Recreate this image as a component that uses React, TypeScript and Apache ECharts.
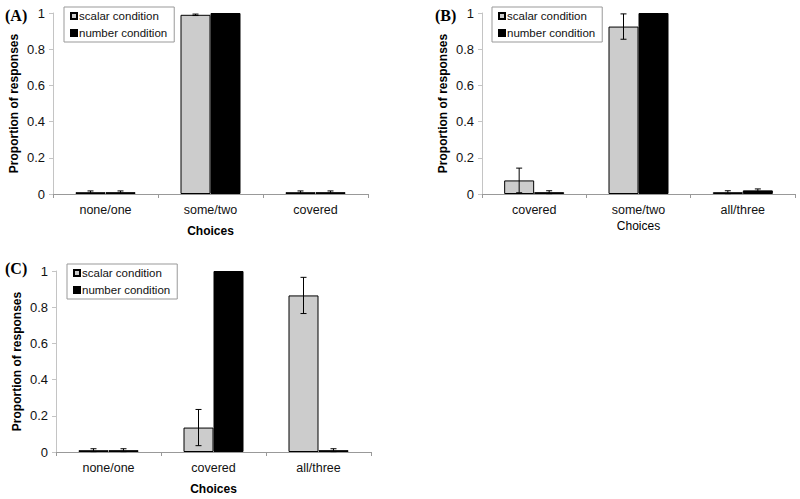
import React, { useEffect, useRef } from "react";
import * as echarts from "echarts";

const catsA = ["none/one", "some/two", "covered"];
const catsB = ["covered", "some/two", "all/three"];
const catsC = ["none/one", "covered", "all/three"];

const scalarA = [0.01, 0.99, 0.01];
const numberA = [0.01, 1.0, 0.01];
const scalarErrA = [0.007, 0.004, 0.007];
const numberErrA = [0.007, 0, 0.007];

const scalarB = [0.075, 0.925, 0.01];
const numberB = [0.01, 1.0, 0.02];
const scalarErrB = [0.068, 0.07, 0.008];
const numberErrB = [0.008, 0, 0.008];

const scalarC = [0.01, 0.135, 0.865];
const numberC = [0.01, 1.0, 0.01];
const scalarErrC = [0.008, 0.1, 0.1];
const numberErrC = [0.008, 0, 0.008];

const legendNames = ["scalar condition", "number condition"];
const panelLabels = ["(A)", "(B)", "(C)"];

const FONT = "'Liberation Sans', Arial, sans-serif";
const BAR_W = 30;

export default function App() {
  const ref = useRef<HTMLDivElement>(null);
  useEffect(() => {
    if (!ref.current) return;
    const chart = echarts.init(ref.current, null, { renderer: "svg" });

    const panels = [
      { cats: catsA, s: scalarA, n: numberA, se: scalarErrA, ne: numberErrA, grid: { left: 53, top: 13, width: 315, height: 181 }, nameBold: true, nameGap: 31, legend: { left: 64, top: 7 } },
      { cats: catsB, s: scalarB, n: numberB, se: scalarErrB, ne: numberErrB, grid: { left: 482, top: 13, width: 313, height: 181 }, nameBold: false, nameGap: 26, legend: { left: 492, top: 7 } },
      { cats: catsC, s: scalarC, n: numberC, se: scalarErrC, ne: numberErrC, grid: { left: 56, top: 271, width: 315, height: 181 }, nameBold: true, nameGap: 31, legend: { left: 67, top: 264 } },
    ];

    const grids: any[] = [];
    const xAxes: any[] = [];
    const yAxes: any[] = [];
    const series: any[] = [];
    const legends: any[] = [];

    const errRender = (offset: number) => (params: any, api: any) => {
      const idx = api.value(0);
      const lo = api.value(1);
      const hi = api.value(2);
      if (hi - lo <= 0) return null;
      const pHi = api.coord([idx, hi]);
      const pLo = api.coord([idx, lo]);
      const x = pHi[0] + offset;
      const cap = 3;
      const style = { stroke: "#000", lineWidth: 1 };
      return {
        type: "group",
        children: [
          { type: "line", shape: { x1: x, y1: pHi[1], x2: x, y2: pLo[1] }, style },
          { type: "line", shape: { x1: x - cap, y1: pHi[1], x2: x + cap, y2: pHi[1] }, style },
          { type: "line", shape: { x1: x - cap, y1: pLo[1], x2: x + cap, y2: pLo[1] }, style },
        ],
      };
    };

    panels.forEach((p, i) => {
      grids.push({ ...p.grid, containLabel: false });
      xAxes.push({
        type: "category",
        gridIndex: i,
        data: p.cats,
        boundaryGap: true,
        axisLine: { lineStyle: { color: "#999", width: 1 } },
        axisTick: { show: true, alignWithLabel: false, length: 4, lineStyle: { color: "#999" } },
        axisLabel: { color: "#111", fontSize: 12.5, fontFamily: FONT, margin: 9 },
        name: "Choices",
        nameLocation: "middle",
        nameGap: p.nameGap,
        nameTextStyle: { color: "#000", fontSize: 12, fontWeight: p.nameBold ? "bold" : "normal", fontFamily: FONT },
      });
      yAxes.push({
        type: "value",
        gridIndex: i,
        min: 0,
        max: 1,
        interval: 0.2,
        axisLine: { show: true, lineStyle: { color: "#c4c4c4", width: 1 } },
        axisTick: { show: true, length: 4, lineStyle: { color: "#c4c4c4" } },
        splitLine: { show: false },
        axisLabel: { color: "#111", fontSize: 13, fontFamily: FONT, margin: 8 },
        name: "Proportion of responses",
        nameLocation: "middle",
        nameGap: 33,
        nameTextStyle: { color: "#000", fontSize: 12, fontWeight: "bold", fontFamily: FONT },
      });
      series.push({
        type: "bar",
        name: legendNames[0],
        xAxisIndex: i,
        yAxisIndex: i,
        data: p.s,
        barWidth: BAR_W,
        barGap: "0%",
        itemStyle: { color: "#cccccc", borderColor: "#000", borderWidth: 1 },
      });
      series.push({
        type: "bar",
        name: legendNames[1],
        xAxisIndex: i,
        yAxisIndex: i,
        data: p.n,
        barWidth: BAR_W,
        barGap: "0%",
        itemStyle: { color: "#000", borderColor: "#000", borderWidth: 1 },
      });
      series.push({
        type: "custom",
        name: "err-s-" + i,
        xAxisIndex: i,
        yAxisIndex: i,
        z: 5,
        renderItem: errRender(-BAR_W / 2),
        data: p.s.map((v, k) => [k, v - p.se[k], v + p.se[k]]),
      });
      series.push({
        type: "custom",
        name: "err-n-" + i,
        xAxisIndex: i,
        yAxisIndex: i,
        z: 5,
        renderItem: errRender(BAR_W / 2),
        data: p.n.map((v, k) => [k, v - p.ne[k], v + p.ne[k]]),
      });
      legends.push({
        ...p.legend,
        orient: "vertical",
        data: legendNames,
        itemWidth: 6,
        itemHeight: 6,
        itemGap: 5,
        padding: [3, 7, 3, 6],
        borderColor: "#999",
        borderWidth: 1,
        icon: "rect",
        selectedMode: false,
        textStyle: { color: "#111", fontSize: 11.5, fontFamily: FONT, padding: [0, 0, 0, -3] },
      });
    });

    const titlePos = [
      { left: 5, top: 7 },
      { left: 435, top: 7 },
      { left: 5, top: 260 },
    ];

    chart.setOption({
      animation: false,
      backgroundColor: "#fff",
      grid: grids,
      xAxis: xAxes,
      yAxis: yAxes,
      legend: legends,
      series,
      graphic: panelLabels.map((t, i) => ({
        type: "text",
        left: titlePos[i].left,
        top: titlePos[i].top,
        style: { text: t, fontSize: 16, fontWeight: "bold", fontFamily: "'Liberation Serif', 'Times New Roman', serif", fill: "#000" },
      })),
    });
    return () => chart.dispose();
  }, []);
  return <div ref={ref} style={{ position: "fixed", left: 0, top: 0, width: 800, height: 499 }} />;
}
